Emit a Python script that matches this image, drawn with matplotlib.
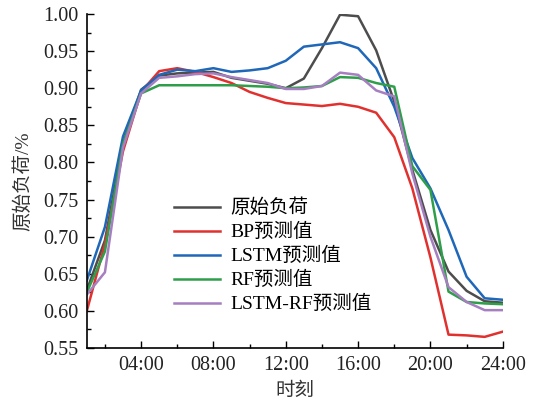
import matplotlib.pyplot as plt
from matplotlib.ticker import MultipleLocator

plt.rcParams['font.family'] = ['Liberation Serif', 'Noto Sans CJK SC']
plt.rcParams['axes.unicode_minus'] = False

# hourly load, 01:00 .. 24:00 (per unit)
hours = list(range(1, 25))
actual = [0.628, 0.695, 0.825, 0.898, 0.917, 0.920, 0.921, 0.922, 0.914, 0.910, 0.906, 0.900,
          0.913, 0.954, 0.999, 0.997, 0.951, 0.882, 0.790, 0.709, 0.653, 0.627, 0.613, 0.611]
bp = [0.600, 0.690, 0.815, 0.895, 0.923, 0.927, 0.922, 0.915, 0.907, 0.895, 0.887, 0.880,
      0.878, 0.876, 0.879, 0.875, 0.867, 0.834, 0.765, 0.672, 0.568, 0.567, 0.565, 0.572]
lstm = [0.641, 0.713, 0.835, 0.897, 0.918, 0.925, 0.923, 0.927, 0.922, 0.924, 0.927, 0.937,
        0.956, 0.959, 0.962, 0.954, 0.927, 0.875, 0.806, 0.765, 0.709, 0.646, 0.617, 0.615]
rf = [0.625, 0.680, 0.825, 0.893, 0.904, 0.904, 0.904, 0.904, 0.904, 0.903, 0.902, 0.900,
      0.901, 0.903, 0.915, 0.914, 0.907, 0.902, 0.795, 0.763, 0.626, 0.612, 0.610, 0.609]
lstm_rf = [0.622, 0.652, 0.820, 0.893, 0.914, 0.916, 0.919, 0.920, 0.915, 0.911, 0.907, 0.899,
           0.899, 0.903, 0.921, 0.918, 0.897, 0.889, 0.785, 0.700, 0.632, 0.612, 0.601, 0.601]

series = [('原始负荷', actual, '#4d4d4d'),
          ('BP预测值', bp, '#e0312f'),
          ('LSTM预测值', lstm, '#1f67b8'),
          ('RF预测值', rf, '#2f9e4a'),
          ('LSTM-RF预测值', lstm_rf, '#a57fc0')]

xticks = [4, 8, 12, 16, 20, 24]
xticklabels = ['04:00', '08:00', '12:00', '16:00', '20:00', '24:00']

fig = plt.figure(figsize=(5.36, 4.0), dpi=100)
ax = fig.add_axes([0.162, 0.13, 0.776, 0.835])

for name, vals, color in series:
    ax.plot(hours, vals, color=color, lw=1.8, label=name)

ax.set_xlim(1, 24)
ax.set_ylim(0.55, 1.0)
ax.set_xticks(xticks)
ax.set_xticklabels(xticklabels)
ax.xaxis.set_minor_locator(MultipleLocator(2))
ax.yaxis.set_major_locator(MultipleLocator(0.05))
ax.yaxis.set_minor_locator(MultipleLocator(0.025))
ax.yaxis.set_major_formatter(plt.FormatStrFormatter('%.2f'))
ax.tick_params(which='major', direction='in', length=5, width=1, labelsize=14.5,
               pad=6, labelcolor='#222222')
ax.tick_params(which='minor', direction='in', length=3, width=1)

for side in ['top', 'right']:
    ax.spines[side].set_visible(False)
for side in ['left', 'bottom']:
    ax.spines[side].set_linewidth(1.2)

ax.set_xlabel('时刻', fontsize=14, color='#333333', labelpad=5)
ax.set_ylabel('原始负荷/%', fontsize=14, color='#333333', labelpad=8)

ax.legend(loc='upper left', bbox_to_anchor=(0.19, 0.47), frameon=False,
          fontsize=14, handlelength=2.4, handletextpad=0.5, labelspacing=0.3,
          borderaxespad=0)

fig.savefig('out.png', dpi=100)
